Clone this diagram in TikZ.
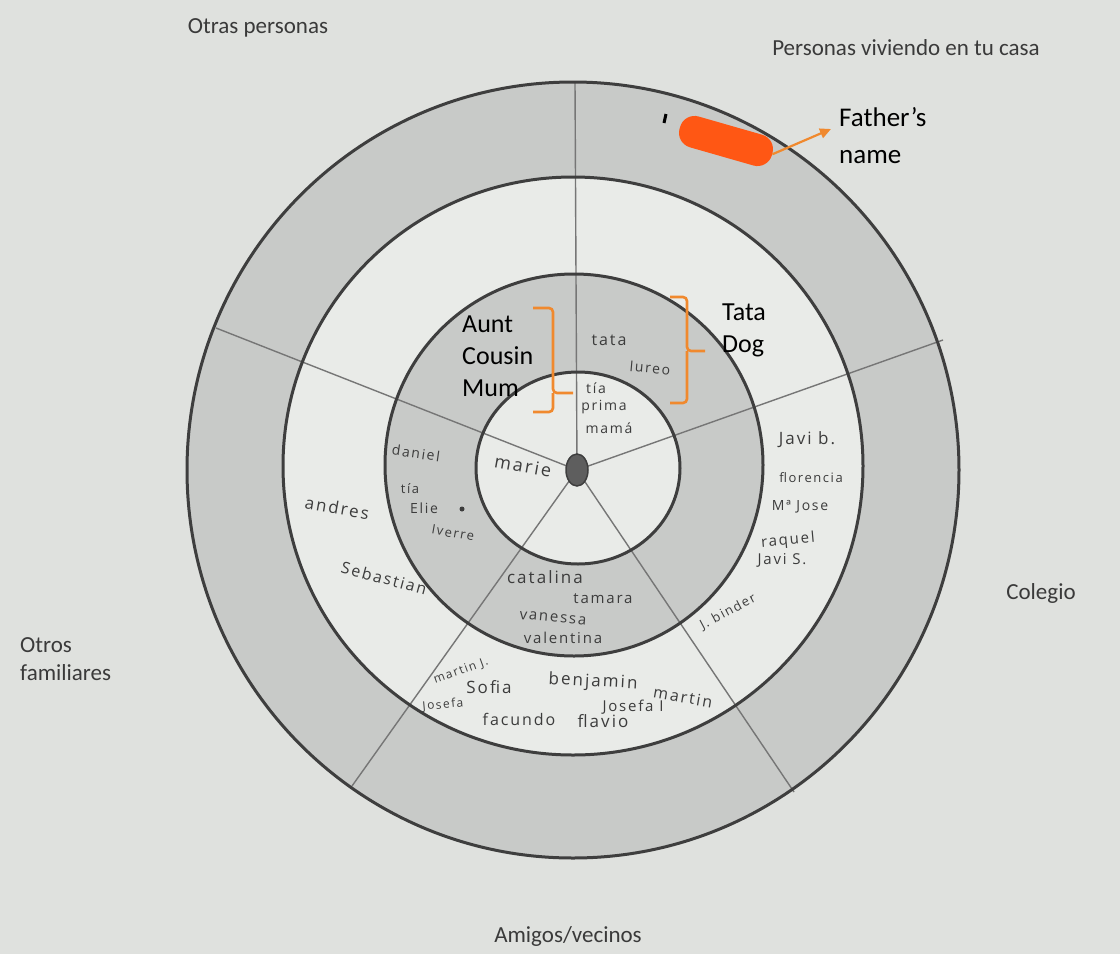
\documentclass[tikz,border=0pt]{standalone}
\usepackage{fontspec}
\setmainfont{Carlito}
\newfontfamily\hand{Open Sans}[LetterSpace=12]
\usetikzlibrary{arrows.meta,shapes.geometric}
\definecolor{bg}{HTML}{DFE1DE}
\definecolor{ringdark}{HTML}{C8CAC8}
\definecolor{ringlight}{HTML}{E9EBE8}
\definecolor{edgecol}{HTML}{3E3E3E}
\definecolor{spokecol}{HTML}{767676}
\definecolor{handcol}{HTML}{3C3C3C}
\definecolor{labelcol}{HTML}{3A3A3A}
\definecolor{blobcol}{HTML}{FF5714}
\definecolor{annotcol}{HTML}{F0892E}
\definecolor{dotcol}{HTML}{5E5E5E}
\tikzset{
  ringline/.style={draw=edgecol, line width=3pt},
  spoke/.style={draw=spokecol, line width=1.4pt},
  printed/.style={text=labelcol, font=\fontsize{23}{28}\selectfont, inner sep=0pt},
  annot/.style={text=black, font=\fontsize{26}{32}\selectfont, inner sep=0pt, align=left},
  bracket/.style={draw=annotcol, line width=2.6pt, rounded corners=4pt},
  hw/.style={text=handcol, inner sep=0pt, font=\hand\fontsize{#1}{#1}\selectfont},
  hw/.default=15
}
\begin{document}
\begin{tikzpicture}[x=1pt,y=-1pt]
\fill[bg] (0,0) rectangle (1120,954);
\useasboundingbox (0,0) rectangle (1120,954);
% ring fills
\fill[ringdark] (573,470) ellipse [x radius=386pt, y radius=388pt];
\fill[ringlight] (573,466) ellipse [x radius=290pt, y radius=289pt];
\fill[ringdark] (574,465) ellipse [x radius=189pt, y radius=191pt];
\fill[ringlight] (578,468) ellipse [x radius=102pt, y radius=96pt];
% spokes
\coordinate (ctrpt) at (577,470);
\coordinate (s1) at (575,82);
\coordinate (s2) at (216,328);
\coordinate (s3) at (352,786);
\coordinate (s4) at (794,792);
\coordinate (s5) at (943,340);
\foreach \s in {s1,s2,s3,s4,s5} \draw[spoke] (ctrpt) -- (\s);
% ring outlines
\draw[ringline] (573,470) ellipse [x radius=386pt, y radius=388pt];
\draw[ringline] (573,466) ellipse [x radius=290pt, y radius=289pt];
\draw[ringline] (574,465) ellipse [x radius=189pt, y radius=191pt];
\draw[ringline] (578,468) ellipse [x radius=102pt, y radius=96pt];
\node[ellipse, fill=dotcol, draw=edgecol, line width=1.5pt, minimum width=22pt, minimum height=32pt, inner sep=0pt] (ctr) at (ctrpt) {};
% printed labels
\node[printed] (lotras) at (258,28) {Otras personas};
\node[printed] (lcasa) at (906,48) {Personas viviendo en tu casa};
\node[printed] (lcolegio) at (1041,593) {Colegio};
\node[printed, anchor=west, align=left] (lfam) at (20,659) {Otros\\familiares};
\node[printed] (lamigos) at (568,936) {Amigos/vecinos};
% handwritten names
\node[hw=16] (n1) at (609,340) {tata};
\node[hw=14, rotate=-5] (n2) at (650,368) {lureo};
\node[hw=14] (n3) at (596,388) {tía};
\node[hw=14] (n4) at (604,407) {prima};
\node[hw=14] (n5) at (609,428) {mamá};
\node[hw=18, rotate=-10] (n6) at (523,466) {marie};
\node[hw=14, rotate=-8] (n7) at (416,453) {daniel};
\node[hw=13] (n8) at (410,489) {tía};
\node[hw=14] (n9) at (424,508) {Elie};
\node[fill=handcol, circle, inner sep=0pt, minimum size=5pt] (n9d) at (462,509) {};
\node[hw=13, rotate=-10] (n10) at (453,533) {Iverre};
\node[hw=17, rotate=-10] (n11) at (337,508) {andres};
\node[hw=16, rotate=-15] (n12) at (384,578) {Sebastian};
\node[hw=17] (n13) at (545,577) {catalina};
\node[hw=15] (n14) at (603,599) {tamara};
\node[hw=15, rotate=-5] (n15) at (553,618) {vanessa};
\node[hw=15] (n16) at (563,638) {valentina};
\node[hw=17] (n17) at (807,440) {Javi b.};
\node[hw=13] (n18) at (811,478) {florencia};
\node[hw=14] (n19) at (800,507) {Mª Jose};
\node[hw=15, rotate=5] (n20) at (788,541) {raquel};
\node[hw=15] (n21) at (782,560) {Javi S.};
\node[hw=13, rotate=28] (n22) at (728,612) {J. binder};
\node[hw=12, rotate=20] (n23) at (461,671) {martin J.};
\node[hw=17] (n24) at (489,687) {Sofia};
\node[hw=12, rotate=5] (n25) at (443,705) {Josefa};
\node[hw=17, rotate=-3] (n26) at (593,682) {benjamin};
\node[hw=16, rotate=-10] (n27) at (683,697) {martin};
\node[hw=15] (n28) at (633,707) {Josefa I};
\node[hw=16] (n29) at (519,719) {facundo};
\node[hw=17] (n30) at (603,721) {flavio};
% redaction blob and tick
\draw[line width=3pt, black] (666,114) -- (664,123);
\node[fill=blobcol, rotate=-16, minimum width=96pt, minimum height=32pt, rounded corners=15pt, inner sep=0pt] (blob) at (726,141) {};
\node[annot, anchor=base west, font=\fontsize{27}{37}\selectfont] (father) at (839,163) {Father’s\\name};
\coordinate (ftip) at (831,129);
\draw[annotcol, line width=2.2pt, -{Triangle[length=11pt,width=10pt]}] (blob.east) -- (ftip);
% brackets and annotations
\draw[bracket] (533,308) -| (553,393) -- (573,393);
\draw[bracket] (533,412) -| (553,393);
\draw[bracket] (670,297) -| (687,351) -- (705,351);
\draw[bracket] (670,403) -| (687,351);
\node[annot, anchor=base west] (aunt) at (462,396) {Aunt\\Cousin\\Mum};
\node[annot, anchor=base west] (tata) at (722,352) {Tata\\Dog};
\end{tikzpicture}
\end{document}
